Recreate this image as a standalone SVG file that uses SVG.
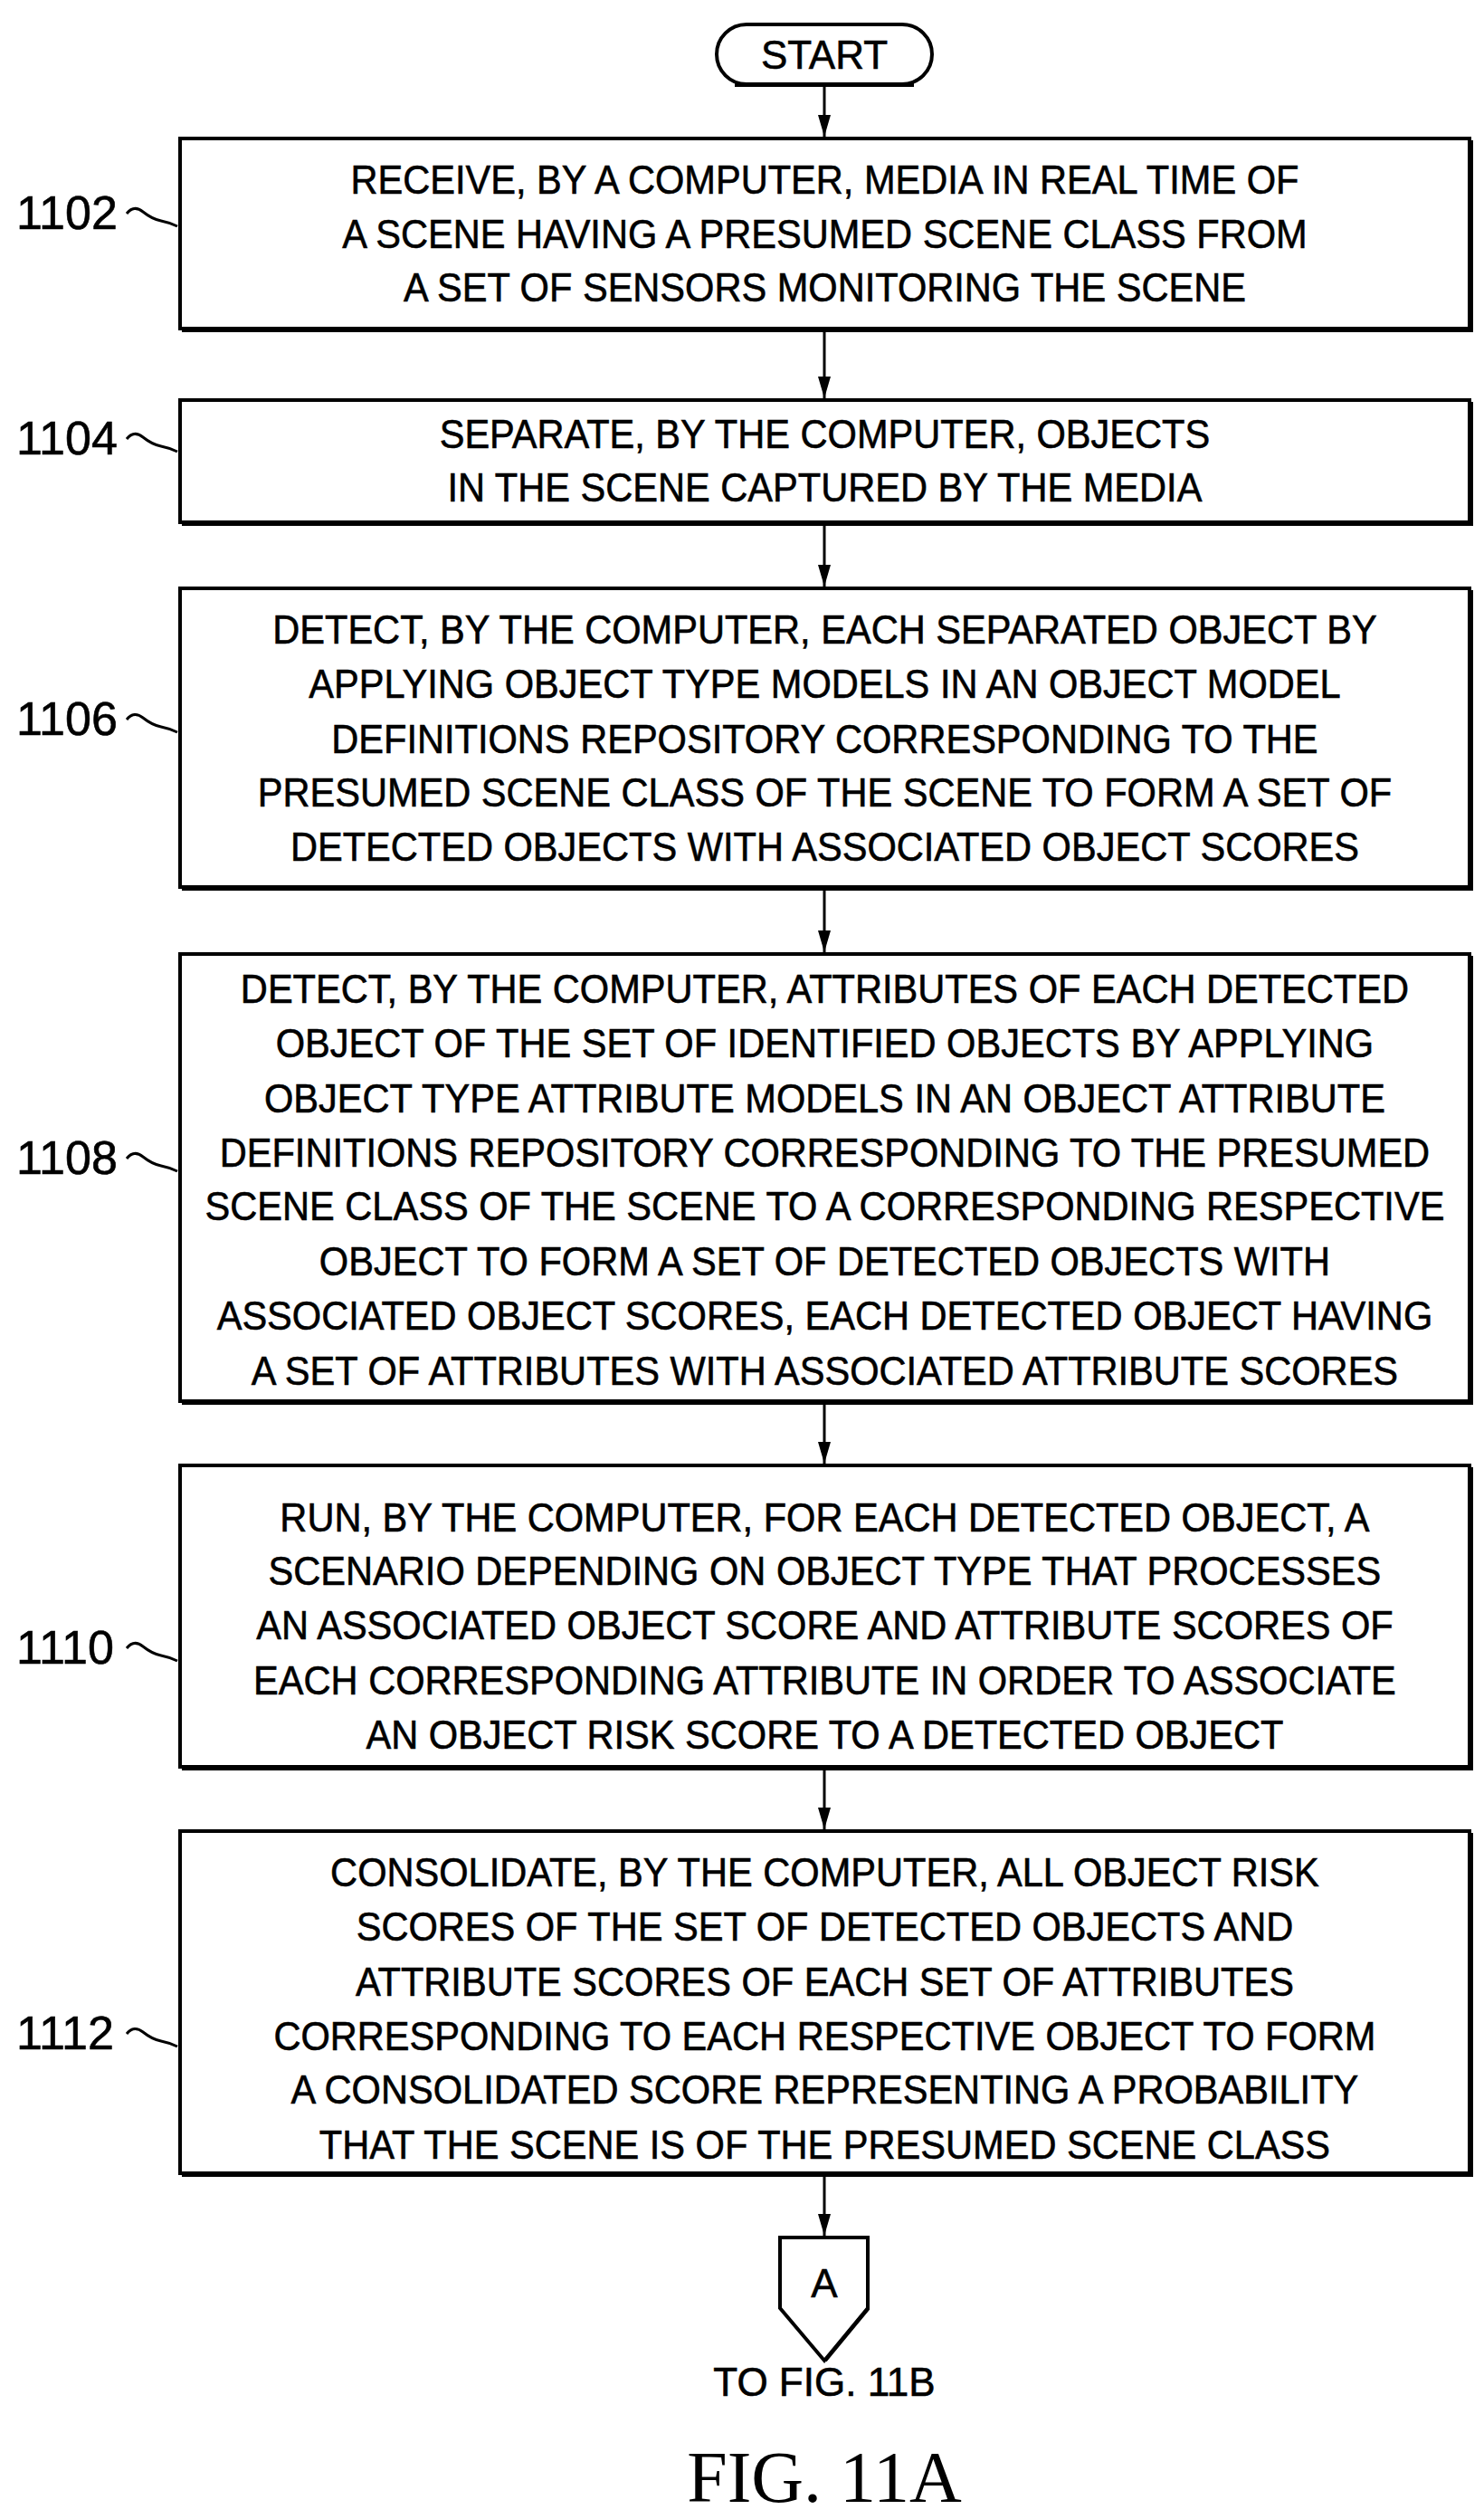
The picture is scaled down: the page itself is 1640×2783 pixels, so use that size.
<svg xmlns="http://www.w3.org/2000/svg" width="1640" height="2783" viewBox="0 0 1640 2783">
<style>
.b{fill:#fff;stroke:#000;stroke-width:4}
.s{fill:none;stroke:#000;stroke-width:4}
.t{font-family:"Liberation Sans Narrow","Liberation Sans",Arial,sans-serif;font-size:44px;text-anchor:middle;fill:#000;stroke:#000;stroke-width:0.6}
.l{font-family:"Liberation Sans Narrow","Liberation Sans",Arial,sans-serif;font-size:52px;fill:#000;stroke:#000;stroke-width:0.6}
.c{fill:none;stroke:#000;stroke-width:3}
</style>
<defs>
<marker id="a" viewBox="0 0 24 14" refX="24" refY="7" markerWidth="24" markerHeight="14" orient="auto" markerUnits="userSpaceOnUse"><path d="M0,0 L24,7 L0,14 Z" fill="#000"/></marker></defs>
<g id="connectors">
<line class="c" x1="911" y1="95" x2="911" y2="151" marker-end="url(#a)"/>
<line class="c" x1="911" y1="366" x2="911" y2="440" marker-end="url(#a)"/>
<line class="c" x1="911" y1="580" x2="911" y2="648" marker-end="url(#a)"/>
<line class="c" x1="911" y1="983" x2="911" y2="1052" marker-end="url(#a)"/>
<line class="c" x1="911" y1="1551" x2="911" y2="1617" marker-end="url(#a)"/>
<line class="c" x1="911" y1="1955" x2="911" y2="2021" marker-end="url(#a)"/>
<line class="c" x1="911" y1="2404" x2="911" y2="2470" marker-end="url(#a)"/>
</g>
<g id="start"><rect x="792" y="27" width="238" height="66" rx="33" class="b"/><line x1="812" y1="94" x2="1010" y2="94" stroke="#000" stroke-width="4"/><text class="t" x="911" y="76">START</text></g>
<g id="n1102"><rect x="199" y="153" width="1425" height="210" class="b"/><path d="M201,365 H1626 V155" class="s"/>
<g transform="matrix(0.945 0 0 1 0 0)"><text class="t" x="964.5" y="214">RECEIVE, BY A COMPUTER, MEDIA IN REAL TIME OF</text><text class="t" x="964.5" y="274">A SCENE HAVING A PRESUMED SCENE CLASS FROM</text><text class="t" x="964.5" y="333">A SET OF SENSORS MONITORING THE SCENE</text></g></g>
<g id="n1104"><rect x="199" y="442" width="1425" height="135" class="b"/><path d="M201,579 H1626 V444" class="s"/>
<g transform="matrix(0.945 0 0 1 0 0)"><text class="t" x="964.5" y="495">SEPARATE, BY THE COMPUTER, OBJECTS</text><text class="t" x="964.5" y="554">IN THE SCENE CAPTURED BY THE MEDIA</text></g></g>
<g id="n1106"><rect x="199" y="650" width="1425" height="330" class="b"/><path d="M201,982 H1626 V652" class="s"/>
<g transform="matrix(0.945 0 0 1 0 0)"><text class="t" x="964.5" y="711">DETECT, BY THE COMPUTER, EACH SEPARATED OBJECT BY</text><text class="t" x="964.5" y="771">APPLYING OBJECT TYPE MODELS IN AN OBJECT MODEL</text><text class="t" x="964.5" y="832">DEFINITIONS REPOSITORY CORRESPONDING TO THE</text><text class="t" x="964.5" y="891">PRESUMED SCENE CLASS OF THE SCENE TO FORM A SET OF</text><text class="t" x="964.5" y="951">DETECTED OBJECTS WITH ASSOCIATED OBJECT SCORES</text></g></g>
<g id="n1108"><rect x="199" y="1054" width="1425" height="494" class="b"/><path d="M201,1550 H1626 V1056" class="s"/>
<g transform="matrix(0.945 0 0 1 0 0)"><text class="t" x="964.5" y="1108">DETECT, BY THE COMPUTER, ATTRIBUTES OF EACH DETECTED</text><text class="t" x="964.5" y="1168">OBJECT OF THE SET OF IDENTIFIED OBJECTS BY APPLYING</text><text class="t" x="964.5" y="1229">OBJECT TYPE ATTRIBUTE MODELS IN AN OBJECT ATTRIBUTE</text><text class="t" x="964.5" y="1289">DEFINITIONS REPOSITORY CORRESPONDING TO THE PRESUMED</text><text class="t" x="964.5" y="1348">SCENE CLASS OF THE SCENE TO A CORRESPONDING RESPECTIVE</text><text class="t" x="964.5" y="1409">OBJECT TO FORM A SET OF DETECTED OBJECTS WITH</text><text class="t" x="964.5" y="1469">ASSOCIATED OBJECT SCORES, EACH DETECTED OBJECT HAVING</text><text class="t" x="964.5" y="1530">A SET OF ATTRIBUTES WITH ASSOCIATED ATTRIBUTE SCORES</text></g></g>
<g id="n1110"><rect x="199" y="1619" width="1425" height="333" class="b"/><path d="M201,1954 H1626 V1621" class="s"/>
<g transform="matrix(0.945 0 0 1 0 0)"><text class="t" x="964.5" y="1692">RUN, BY THE COMPUTER, FOR EACH DETECTED OBJECT, A</text><text class="t" x="964.5" y="1751">SCENARIO DEPENDING ON OBJECT TYPE THAT PROCESSES</text><text class="t" x="964.5" y="1811">AN ASSOCIATED OBJECT SCORE AND ATTRIBUTE SCORES OF</text><text class="t" x="964.5" y="1872">EACH CORRESPONDING ATTRIBUTE IN ORDER TO ASSOCIATE</text><text class="t" x="964.5" y="1932">AN OBJECT RISK SCORE TO A DETECTED OBJECT</text></g></g>
<g id="n1112"><rect x="199" y="2023" width="1425" height="378" class="b"/><path d="M201,2403 H1626 V2025" class="s"/>
<g transform="matrix(0.945 0 0 1 0 0)"><text class="t" x="964.5" y="2084">CONSOLIDATE, BY THE COMPUTER, ALL OBJECT RISK</text><text class="t" x="964.5" y="2144">SCORES OF THE SET OF DETECTED OBJECTS AND</text><text class="t" x="964.5" y="2205">ATTRIBUTE SCORES OF EACH SET OF ATTRIBUTES</text><text class="t" x="964.5" y="2265">CORRESPONDING TO EACH RESPECTIVE OBJECT TO FORM</text><text class="t" x="964.5" y="2324">A CONSOLIDATED SCORE REPRESENTING A PROBABILITY</text><text class="t" x="964.5" y="2385">THAT THE SCENE IS OF THE PRESUMED SCENE CLASS</text></g></g>
<g id="refs">
<text class="l" x="18" y="253">1102</text><text class="l" x="18" y="502">1104</text><text class="l" x="18" y="812">1106</text><text class="l" x="18" y="1297">1108</text><text class="l" x="18" y="1838">1110</text><text class="l" x="18" y="2264">1112</text>
<path class="c" d="M140,236 q8,-10 18,-2 t20,10 t18,6"/>
<path class="c" d="M140,485 q8,-10 18,-2 t20,10 t18,6"/>
<path class="c" d="M140,795 q8,-10 18,-2 t20,10 t18,6"/>
<path class="c" d="M140,1280 q8,-10 18,-2 t20,10 t18,6"/>
<path class="c" d="M140,1821 q8,-10 18,-2 t20,10 t18,6"/>
<path class="c" d="M140,2247 q8,-10 18,-2 t20,10 t18,6"/>
</g>
<g id="connA"><path d="M862,2472 H959 V2550 L911,2608 L862,2550 Z" class="b"/><path d="M959,2474 V2551 L912,2608" class="s" stroke-width="6"/>
<text class="t" x="911" y="2538" font-size="44">A</text></g>
<text class="t" x="911" y="2647" font-size="42">TO FIG. 11B</text>
<text x="911" y="2764" font-family="Liberation Serif,serif" font-size="80" text-anchor="middle">FIG. 11A</text>
</svg>
